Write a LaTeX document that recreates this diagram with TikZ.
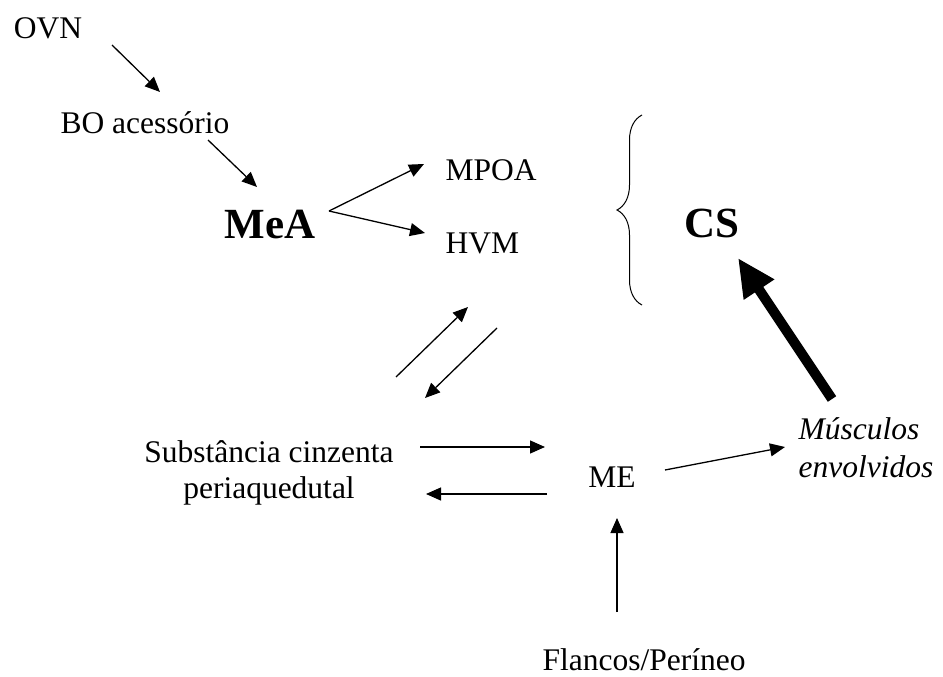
\documentclass[tikz,border=0pt]{standalone}
\usepackage{fontspec}
\setmainfont{Liberation Serif}
\usetikzlibrary{arrows.meta,decorations.pathreplacing}

\begin{document}
\begin{tikzpicture}[x=1pt, y=-1pt, line width=1.3pt, ->,
  >={Triangle[length=15pt,width=13pt]},
  lbl/.style={inner sep=0pt, font=\fontsize{31.5}{36}\selectfont},
  big/.style={inner sep=0pt, font=\fontsize{43}{48}\selectfont\bfseries}]

  \useasboundingbox (0,0) rectangle (943,677);

  \node [lbl, anchor=base] (ovn) at (48,39) {OVN};
  \node [lbl, anchor=base] (bo) at (145,133) {BO acessório};
  \node [big, anchor=base] (mea) at (270,238) {MeA};
  \node [lbl, anchor=base west] (mpoa) at (445,180) {MPOA};
  \node [lbl, anchor=base west] (hvm) at (445,253) {HVM};
  \node [big, anchor=base] (cs) at (712,237) {CS};
  \node [lbl, anchor=base, align=center] (pag) at (269,498) {Substância cinzenta\\periaquedutal};
  \node [lbl, anchor=base] (me) at (612,487) {ME};
  \node [lbl, anchor=base west, align=left, font=\fontsize{31.5}{38}\selectfont\itshape] (musc) at (798,477) {Músculos\\envolvidos};
  \node [lbl, anchor=base west] (flancos) at (542,670) {Flancos/Períneo};

  % arrow ends
  \coordinate (ovn-out) at (112,45);   \coordinate (bo-in) at (160,92);
  \coordinate (bo-out) at (208,140);   \coordinate (mea-in) at (257,187);
  \coordinate (mea-out) at (329,211);
  \coordinate (mpoa-in) at (424,164);  \coordinate (hvm-in) at (425,233);
  \coordinate (pag-up) at (396,377);   \coordinate (hyp-in) at (468,307);
  \coordinate (hyp-out) at (497,328);  \coordinate (pag-in) at (425,398);
  \coordinate (pag-r1) at (420,447);   \coordinate (me-l1) at (545,447);
  \coordinate (me-l2) at (547,494);    \coordinate (pag-r2) at (426,494);
  \coordinate (fl-out) at (617,612);   \coordinate (me-in) at (617,518);
  \coordinate (me-out) at (665,470);   \coordinate (musc-in) at (785,447);
  \coordinate (musc-out) at (832,399); \coordinate (cs-in) at (738,258);

  \draw (ovn-out) -- (bo-in);
  \draw (bo-out) -- (mea-in);
  \draw (mea-out) -- (mpoa-in);
  \draw (mea-out) -- (hvm-in);
  \draw (pag-up) -- (hyp-in);
  \draw (hyp-out) -- (pag-in);
  \draw (pag-r1) -- (me-l1);
  \draw (me-l2) -- (pag-r2);
  \draw (fl-out) -- (me-in);
  \draw (me-out) -- (musc-in);
  \draw [line width=10pt, -{Triangle[length=38pt,width=34pt]}] (musc-out) -- (cs-in);

  \draw [-, line width=1pt, decorate, decoration={brace, amplitude=25pt}] (642,305) -- (642,115);

\end{tikzpicture}
\end{document}
